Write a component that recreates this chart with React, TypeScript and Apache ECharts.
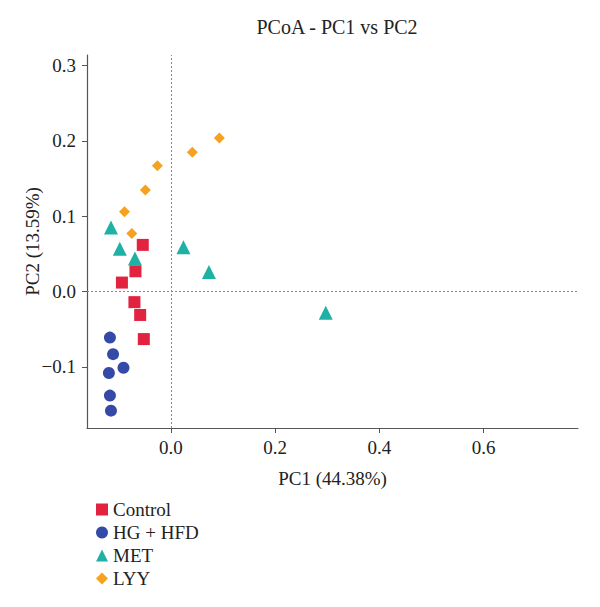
import React, { useEffect, useRef } from "react";
import * as echarts from "echarts";

// PCoA sample coordinates [PC1, PC2] per group
const controlPoints = [
  [-0.054, 0.062],
  [-0.068, 0.027],
  [-0.094, 0.012],
  [-0.07, -0.014],
  [-0.059, -0.031],
  [-0.052, -0.063],
];
const hgHfdPoints = [
  [-0.117, -0.061],
  [-0.111, -0.083],
  [-0.091, -0.101],
  [-0.119, -0.108],
  [-0.117, -0.138],
  [-0.115, -0.158],
];
const metPoints = [
  [-0.115, 0.085],
  [-0.098, 0.057],
  [-0.069, 0.044],
  [0.024, 0.059],
  [0.073, 0.026],
  [0.297, -0.028],
];
const lyyPoints = [
  [0.093, 0.204],
  [0.041, 0.185],
  [-0.026, 0.167],
  [-0.049, 0.135],
  [-0.089, 0.106],
  [-0.075, 0.077],
];

const xTicks = [0, 0.2, 0.4, 0.6];
const yTicks = [-0.1, 0, 0.1, 0.2, 0.3];

const FONT = "'Liberation Serif', 'DejaVu Serif', serif";

export default function App() {
  const ref = useRef<HTMLDivElement>(null);

  useEffect(() => {
    if (!ref.current) return;
    const chart = echarts.init(ref.current, null, { renderer: "svg" });
    const axisColor = "#555";
    const tickFmt = (v: number) => {
      const s = Math.abs(v).toFixed(1);
      return v < -1e-9 ? "\u2212" + s : s;
    };
    chart.setOption({
      animation: false,
      backgroundColor: "#fff",
      textStyle: { fontFamily: FONT },
      title: {
        text: "PCoA - PC1 vs PC2",
        left: 332,
        textAlign: "center",
        top: 12,
        textStyle: { fontFamily: FONT, fontSize: 20, fontWeight: "normal", color: "#222" },
      },
      grid: { left: 87, top: 55, right: 22, bottom: 179, containLabel: false },
      xAxis: {
        type: "value",
        min: -0.161,
        max: 0.781,
        name: "PC1 (44.38%)",
        nameLocation: "middle",
        nameGap: 41,
        nameMoveOverlap: false,
        nameTextStyle: { fontFamily: FONT, fontSize: 19, color: "#222" },
        axisLine: { show: true, onZero: false, lineStyle: { color: axisColor, width: 1.2 } },
        axisTick: { show: true, length: 5, customValues: xTicks, lineStyle: { color: axisColor } },
        axisLabel: {
          customValues: xTicks,
          formatter: tickFmt,
          fontFamily: FONT,
          fontSize: 19,
          color: "#222",
          margin: 10,
        },
        splitLine: { show: false },
      },
      yAxis: {
        type: "value",
        min: -0.181,
        max: 0.314,
        name: "PC2 (13.59%)",
        nameLocation: "middle",
        nameGap: 45,
        nameMoveOverlap: false,
        nameTextStyle: { fontFamily: FONT, fontSize: 19, color: "#222" },
        axisLine: { show: true, onZero: false, lineStyle: { color: axisColor, width: 1.2 } },
        axisTick: { show: true, length: 5, customValues: yTicks, lineStyle: { color: axisColor } },
        axisLabel: {
          customValues: yTicks,
          formatter: tickFmt,
          fontFamily: FONT,
          fontSize: 19,
          color: "#222",
          margin: 11,
        },
        splitLine: { show: false },
      },
      legend: {
        orient: "vertical",
        left: 91,
        top: 495,
        itemWidth: 12,
        itemHeight: 12,
        itemGap: 4,
        textStyle: { fontFamily: FONT, fontSize: 19, color: "#222" },
        data: [
          { name: "Control", icon: "rect" },
          { name: "HG + HFD", icon: "circle" },
          { name: "MET", icon: "triangle" },
          { name: "LYY", icon: "diamond" },
        ],
      },
      series: [
        {
          name: "Control",
          type: "scatter",
          symbol: "rect",
          symbolSize: 12,
          itemStyle: { color: "#e2233f", opacity: 1 },
          data: controlPoints,
          markLine: {
            silent: true,
            symbol: "none",
            label: { show: false },
            lineStyle: { color: "#888", type: [2, 2], width: 1 },
            data: [{ xAxis: 0 }, { yAxis: 0 }],
          },
        },
        {
          name: "HG + HFD",
          type: "scatter",
          symbol: "circle",
          symbolSize: 12,
          itemStyle: { color: "#3549a6", opacity: 1 },
          data: hgHfdPoints,
        },
        {
          name: "MET",
          type: "scatter",
          symbol: "triangle",
          symbolSize: 14,
          itemStyle: { color: "#1fb1a4", opacity: 1 },
          data: metPoints,
        },
        {
          name: "LYY",
          type: "scatter",
          symbol: "diamond",
          symbolSize: 11,
          itemStyle: { color: "#f6a21e", opacity: 1 },
          data: lyyPoints,
        },
      ],
    });
    return () => chart.dispose();
  }, []);

  return (
    <div
      ref={ref}
      style={{ position: "absolute", left: 0, top: 0, width: 600, height: 607 }}
    />
  );
}
